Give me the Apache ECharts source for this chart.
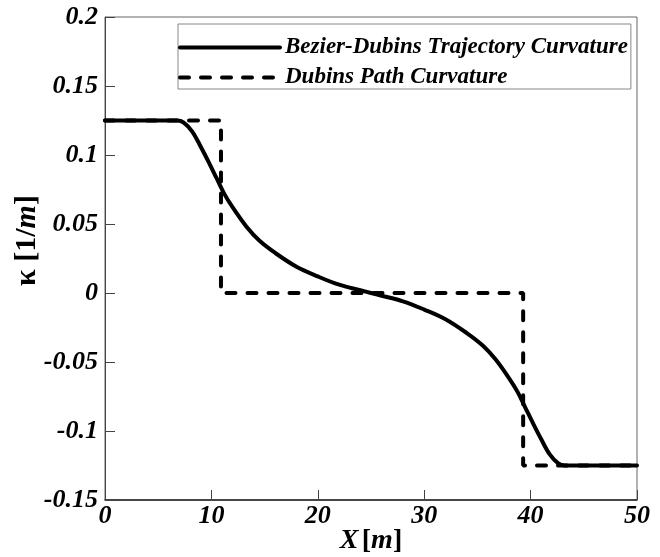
<!DOCTYPE html>
<html>
<head>
<meta charset="utf-8">
<script src="https://cdn.jsdelivr.net/npm/echarts@6/dist/echarts.min.js"></script>
<style>html,body{margin:0;padding:0;background:#fff;}#c{width:660px;height:557px;}</style>
</head>
<body>
<div id="c"></div>
<script>
// ---- data ----
var seriesNames = ['Bezier-Dubins Trajectory Curvature', 'Dubins Path Curvature'];
var bezierX = [0, 6.8, 7.4, 8.2, 9.0, 9.8, 10.5, 11.2, 12, 13.3, 14.5, 16, 18, 20, 22, 24, 25,
               26, 28, 30, 32, 34, 35.5, 36.7, 38, 38.8, 39.5, 40.2, 41, 41.8, 42.6, 43.2, 50];
var bezierK = [0.125, 0.125, 0.1235, 0.117, 0.106, 0.094, 0.083, 0.072, 0.062, 0.048, 0.038, 0.029, 0.019, 0.012, 0.006, 0.002, 0,
               -0.002, -0.006, -0.012, -0.019, -0.029, -0.038, -0.048, -0.062, -0.072, -0.083, -0.094, -0.106, -0.117, -0.1235, -0.125, -0.125];
var dubinsX = [0, 10.9, 10.9, 39.3, 39.3, 50];
var dubinsK = [0.125, 0.125, 0, 0, -0.125, -0.125];
var xTicks = [0, 10, 20, 30, 40, 50];
var yTicks = [-0.15, -0.1, -0.05, 0, 0.05, 0.1, 0.15, 0.2];

function pairs(xs, ys) { return xs.map(function (x, i) { return [x, ys[i]]; }); }

var FONT = '"Liberation Serif", "Times New Roman", serif';
var solidStyle = { color: '#000', width: 4, type: 'solid', cap: 'round' };
var dashStyle = { color: '#000', width: 4, type: [9, 12], cap: 'round' };
var chart = echarts.init(document.getElementById('c'), null, { renderer: 'canvas' });
chart.setOption({
  animation: false,
  backgroundColor: '#fff',
  grid: { left: 105, right: 23, top: 17, bottom: 57, show: true, borderColor: '#666', borderWidth: 1,
          containLabel: false, outerBoundsMode: 'none' },
  legend: {
    left: 178, top: 24, orient: 'vertical',
    padding: [12, 3, 0, 0],
    itemWidth: 100, itemHeight: 14, itemGap: 7, itemTextGap: 30,
    borderColor: '#888', borderWidth: 1, backgroundColor: '#fff',
    itemStyle: { opacity: 0 },
    textStyle: { fontFamily: FONT, fontSize: 23, fontWeight: 'bold', fontStyle: 'italic', color: '#000', lineHeight: 22 },
    data: [
      { name: seriesNames[0], itemStyle: { opacity: 0 }, lineStyle: solidStyle },
      { name: seriesNames[1], itemStyle: { opacity: 0 }, lineStyle: dashStyle }
    ]
  },
  xAxis: {
    type: 'value', min: xTicks[0], max: xTicks[xTicks.length - 1], interval: 10,
    name: '{i|X} {r|[}{i|m}{r|]}', nameLocation: 'middle', nameGap: 27, nameMoveOverlap: false,
    nameTextStyle: {
      rich: {
        i: { fontFamily: FONT, fontSize: 28, fontWeight: 'bold', fontStyle: 'italic', color: '#000' },
        r: { fontFamily: FONT, fontSize: 28, fontWeight: 'bold', color: '#000' }
      }
    },
    axisLine: { show: true, onZero: false, lineStyle: { color: '#222', width: 1.5 } },
    axisTick: { show: true, inside: true, length: 10, lineStyle: { color: '#444' } },
    axisLabel: { fontFamily: FONT, fontSize: 26, fontWeight: 'bold', fontStyle: 'italic', color: '#000', margin: 3 },
    splitLine: { show: false }
  },
  yAxis: {
    type: 'value', min: yTicks[0], max: yTicks[yTicks.length - 1], interval: 0.05,
    name: '{r|κ [1/}{i|m}{r|]}', nameLocation: 'middle', nameGap: 63, nameMoveOverlap: false,
    nameTextStyle: {
      padding: [0, 0, 0, 36],
      rich: {
        i: { fontFamily: FONT, fontSize: 30, fontWeight: 'bold', fontStyle: 'italic', color: '#000' },
        r: { fontFamily: FONT, fontSize: 30, fontWeight: 'bold', color: '#000' }
      }
    },
    axisLine: { show: true, onZero: false, lineStyle: { color: '#444', width: 1 } },
    axisTick: { show: true, inside: true, length: 10, lineStyle: { color: '#444' } },
    axisLabel: {
      fontFamily: FONT, fontSize: 26, fontWeight: 'bold', fontStyle: 'italic', color: '#000', margin: 7,
      formatter: function (v) { return String(Math.round(v * 100) / 100); }
    },
    splitLine: { show: false }
  },
  series: [
    {
      name: seriesNames[1], type: 'line', data: pairs(dubinsX, dubinsK),
      symbol: 'none', showSymbol: false, z: 2,
      lineStyle: dashStyle,
      itemStyle: { color: '#000' }
    },
    {
      name: seriesNames[0], type: 'line', data: pairs(bezierX, bezierK),
      symbol: 'none', showSymbol: false, smooth: 0.35, z: 3,
      lineStyle: solidStyle,
      itemStyle: { color: '#000' }
    }
  ]
});
</script>
</body>
</html>
